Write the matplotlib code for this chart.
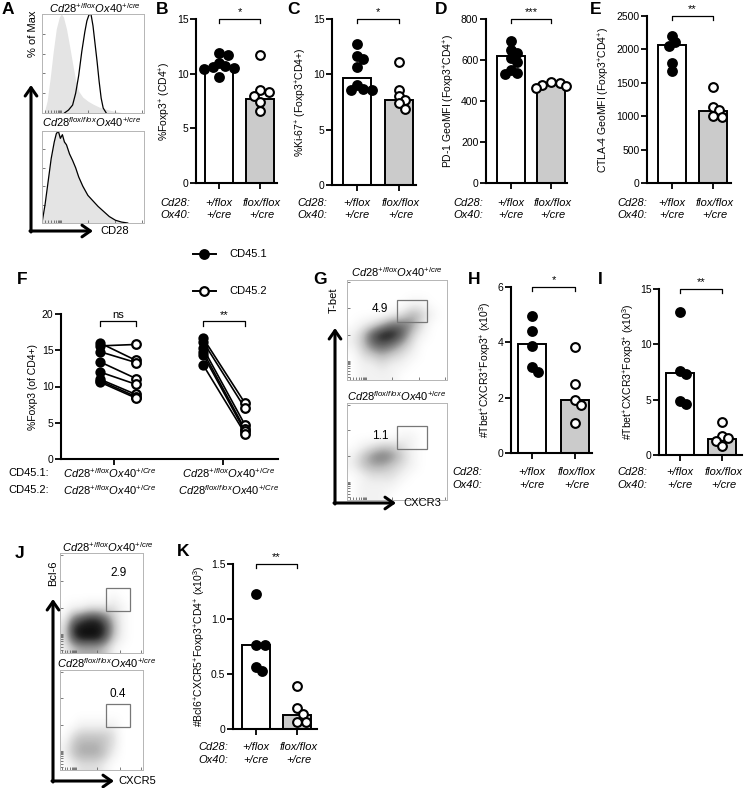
import matplotlib
matplotlib.use('Agg')
import matplotlib.pyplot as plt
import numpy as np
from matplotlib.patches import Rectangle

plt.rcParams['font.family'] = ['Liberation Sans', 'DejaVu Sans']
plt.rcParams['mathtext.fontset'] = 'custom'
plt.rcParams['mathtext.rm'] = 'Liberation Sans'
plt.rcParams['mathtext.it'] = 'Liberation Sans:italic'
plt.rcParams['mathtext.bf'] = 'Liberation Sans:bold'
plt.rcParams['mathtext.sf'] = 'Liberation Sans'

# ---------------- data ----------------
geno_cd28 = ['+/flox', 'flox/flox']
geno_ox40 = ['+/cre', '+/cre']

B_bars = [10.6, 7.7]
B_ctrl = [11.9, 11.7, 11.0, 10.7, 10.6, 10.5, 10.4, 9.7]
B_ko = [11.7, 8.5, 8.3, 8.0, 7.4, 6.6]

C_bars = [9.7, 7.7]
C_ctrl = [12.7, 11.7, 11.4, 10.7, 9.0, 8.7, 8.6, 8.6]
C_ko = [11.1, 8.6, 8.0, 7.7, 7.4, 6.9]

D_bars = [620, 478]
D_ctrl = [695, 650, 635, 610, 592, 550, 535, 530]
D_ko = [492, 488, 480, 472, 465]

E_bars = [2070, 1080]
E_ctrl = [2200, 2110, 2050, 1790, 1680]
E_ko = [1440, 1140, 1100, 1010, 990]

H_bars = [3.95, 1.9]
H_ctrl = [4.96, 4.41, 3.87, 3.12, 2.94]
H_ko = [3.82, 2.49, 1.9, 1.73, 1.07]

I_bars = [7.38, 1.45]
I_ctrl = [12.95, 7.6, 7.3, 4.9, 4.6]
I_ko = [2.95, 1.75, 1.5, 1.3, 0.85]

K_bars = [0.76, 0.13]
K_ctrl = [1.23, 0.76, 0.76, 0.56, 0.53]
K_ko = [0.39, 0.19, 0.14, 0.06, 0.06]

# F: paired CD45.1 (filled) -> CD45.2 (open)
F_left_451 = [16.0, 15.6, 14.8, 13.4, 12.0, 11.0, 10.8, 10.6]
F_left_452 = [13.6, 15.8, 13.3, 11.1, 10.3, 8.9, 8.6, 8.4]
F_right_451 = [16.7, 16.2, 15.3, 14.8, 14.4, 13.0]
F_right_452 = [7.7, 7.0, 4.7, 4.1, 3.8, 3.5]

# A: histograms (x = fraction of CD28 axis, y = % of max)
A_top_ctrl_x = [0.02, 0.05, 0.08, 0.11, 0.14, 0.17, 0.19, 0.21, 0.24, 0.27, 0.30, 0.33, 0.36, 0.40, 0.45, 0.50, 0.56, 0.62, 0.70, 0.80]
A_top_ctrl_y = [0, 12, 35, 62, 85, 97, 100, 97, 85, 68, 50, 33, 22, 16, 12, 9, 6, 4, 2, 0]
A_top_cd28_x = [0.22, 0.26, 0.30, 0.33, 0.36, 0.39, 0.42, 0.44, 0.46, 0.48, 0.50, 0.52, 0.54, 0.56, 0.58, 0.60, 0.63]
A_top_cd28_y = [0, 3, 8, 20, 38, 62, 82, 93, 99, 100, 88, 70, 52, 32, 15, 5, 0]
A_bot_x = [0.0, 0.03, 0.06, 0.09, 0.12, 0.14, 0.16, 0.18, 0.20, 0.22, 0.24, 0.27, 0.30, 0.33, 0.36, 0.40, 0.45, 0.50, 0.55, 0.60, 0.66, 0.72, 0.78, 0.84]
A_bot_cd28_y = [0, 20, 45, 70, 88, 97, 100, 92, 96, 88, 85, 75, 68, 60, 50, 40, 30, 24, 18, 13, 7, 3, 1, 0]
A_bot_ctrl_y = [0, 22, 48, 72, 90, 98, 99, 95, 94, 90, 85, 76, 68, 60, 51, 41, 31, 24, 18, 13, 7, 3, 1, 0]

# G / J: dot-plot densities (rows top->bottom, cols left->right)
G_top = [[0, 0, 0, 0, 0, 0, 0, 0, 0, 0],
         [0, 0, 0, 0, 0, 0, 0, 0, 0, 0],
         [0, 0, 0, 0, 0, 0, 1, 1, 0, 0],
         [0, 0, 0, 0, 1, 2, 4, 3, 1, 0],
         [0, 1, 2, 4, 6, 6, 5, 2, 0, 0],
         [1, 3, 7, 9, 9, 7, 3, 1, 0, 0],
         [1, 3, 6, 7, 6, 4, 2, 0, 0, 0],
         [0, 2, 3, 4, 3, 2, 1, 0, 0, 0],
         [0, 1, 1, 2, 1, 1, 0, 0, 0, 0],
         [0, 1, 1, 1, 1, 0, 0, 0, 0, 0]]
G_bot = [[0, 0, 0, 0, 0, 0, 0, 0, 0, 0],
         [0, 0, 0, 0, 0, 0, 0, 0, 0, 0],
         [0, 0, 0, 0, 0, 0, 0, 0, 0, 0],
         [0, 0, 0, 0, 0, 1, 1, 0, 0, 0],
         [0, 1, 2, 3, 3, 2, 1, 0, 0, 0],
         [1, 3, 5, 6, 5, 3, 1, 0, 0, 0],
         [1, 3, 4, 4, 3, 2, 1, 0, 0, 0],
         [0, 1, 2, 2, 2, 1, 0, 0, 0, 0],
         [0, 1, 1, 1, 1, 0, 0, 0, 0, 0],
         [0, 1, 1, 1, 0, 0, 0, 0, 0, 0]]
J_top = [[0, 0, 0, 0, 0, 0, 0, 0, 0, 0],
         [0, 0, 0, 0, 0, 0, 0, 0, 0, 0],
         [0, 0, 0, 0, 0, 0, 0, 0, 0, 0],
         [0, 0, 0, 0, 0, 0, 0, 0, 0, 0],
         [0, 0, 0, 0, 0, 0, 1, 0, 0, 0],
         [0, 1, 1, 2, 2, 2, 2, 1, 0, 0],
         [1, 5, 7, 8, 8, 6, 3, 1, 0, 0],
         [2, 8, 9, 9, 9, 8, 4, 1, 0, 0],
         [2, 7, 9, 9, 9, 7, 3, 1, 0, 0],
         [1, 3, 4, 4, 4, 3, 1, 0, 0, 0]]
J_bot = [[0, 0, 0, 0, 0, 0, 0, 0, 0, 0],
         [0, 0, 0, 0, 0, 0, 0, 0, 0, 0],
         [0, 0, 0, 0, 0, 0, 0, 0, 0, 0],
         [0, 0, 0, 0, 0, 0, 0, 0, 0, 0],
         [0, 0, 0, 0, 0, 0, 0, 0, 0, 0],
         [0, 0, 1, 1, 1, 1, 1, 0, 0, 0],
         [0, 2, 3, 3, 3, 3, 2, 0, 0, 0],
         [1, 3, 4, 4, 4, 3, 2, 0, 0, 0],
         [1, 3, 4, 4, 4, 3, 1, 0, 0, 0],
         [0, 1, 2, 2, 2, 1, 0, 0, 0, 0]]
G_gates = ['4.9', '1.1']
J_gates = ['2.9', '0.4']

# ---------------- layout helpers ----------------
W, H = 750, 788
fig = plt.figure(figsize=(W / 100, H / 100), dpi=100)

ov = fig.add_axes([0, 0, 1, 1])
ov.set_zorder(10)
ov.patch.set_visible(False)
ov.axis('off')
ov.set_xlim(0, W)
ov.set_ylim(H, 0)


def add_ax(x0, y0, x1, y1):
    return fig.add_axes([x0 / W, 1 - y1 / H, (x1 - x0) / W, (y1 - y0) / H])


def geno(sup1, sup2):
    return r'$\mathit{Cd28}^{\mathit{' + sup1 + r'}}\mathit{Ox40}^{\mathit{' + sup2 + r'}}$'


def letter(x, y, s):
    ov.text(x, y, s, fontsize=12.5, fontweight='bold', ha='left', va='center')


def swarm(vals, xpu, ypu, d=9.0):
    vals = np.asarray(vals, float)
    order = np.argsort(-vals, kind='stable')
    placed = []
    offs = np.zeros(len(vals))
    cands = [0.0]
    for k in range(1, 6):
        cands += [k * 0.33 * d, -k * 0.33 * d]
    for i in order:
        y = vals[i] * ypu
        chosen = cands[-1]
        for c in cands:
            if all((c - px) ** 2 + (y - py) ** 2 >= (0.72 * d) ** 2 for px, py in placed):
                chosen = c
                break
        placed.append((chosen, y))
        offs[i] = chosen / xpu
    return offs


def style_axes(ax):
    for s in ['top', 'right']:
        ax.spines[s].set_visible(False)
    for s in ['left', 'bottom']:
        ax.spines[s].set_linewidth(1.5)
    ax.tick_params(direction='out', length=4, width=1.3, labelsize=7.5, pad=1.5)


def bar_panel(let, lxy, spine, c1, c2, end, ytop, ybot, ymax, yticks, yticklabels,
              bars, ctrl, ko, ylabel, sig, lab_x, lab_y):
    ax = add_ax(spine, ytop, end, ybot)
    unit = float(c2 - c1)
    ax.set_xlim(-(c1 - spine) / unit, 1 + (end - c2) / unit)
    ax.set_ylim(0, ymax)
    ax.bar([0, 1], bars, width=28 / unit, color=['white', '#cbcbcb'],
           edgecolor='black', linewidth=1.4, zorder=2)
    ypu = (ybot - ytop) / ymax
    for i, (vals, face) in enumerate([(ctrl, 'black'), (ko, 'white')]):
        offs = swarm(vals, unit, ypu)
        ax.plot(i + offs, vals, 'o', ms=6.3, mfc=face, mec='black', mew=1.5,
                ls='none', zorder=3, clip_on=False)
    ax.set_xticks([0, 1])
    ax.set_xticklabels([])
    ax.set_yticks(yticks)
    ax.set_yticklabels(yticklabels)
    style_axes(ax)
    ax.set_ylabel(ylabel, fontsize=7.5, labelpad=3)
    hb = 4 / ypu
    yb = ymax
    ax.plot([0, 0, 1, 1], [yb - hb, yb, yb, yb - hb], color='black', lw=0.9, clip_on=False)
    ax.text(0.5, yb + 2 / ypu, sig, ha='center', va='bottom', fontsize=8)
    letter(lxy[0], lxy[1], let)
    kw = dict(style='italic', fontsize=8, va='center')
    ov.text(lab_x, lab_y[0], 'Cd28:', ha='left', **kw)
    ov.text(lab_x, lab_y[1], 'Ox40:', ha='left', **kw)
    for cx, g1, g2 in zip([c1, c2], geno_cd28, geno_ox40):
        ov.text(cx + (2 if g1 == 'flox/flox' else 0), lab_y[0], g1, ha='center', **kw)
        ov.text(cx + (2 if g1 == 'flox/flox' else 0), lab_y[1], g2, ha='center', **kw)
    return ax


def flow_frame(ax, xt, yt):
    ax.set_xlim(0, 1)
    ax.set_ylim(0, 1)
    for s in ax.spines.values():
        s.set_color('#b5b5b5')
        s.set_linewidth(0.7)
    ax.set_xticks(xt)
    ax.set_yticks(yt)
    ax.tick_params(length=2.5, width=0.6, color='#666666', direction='in',
                   labelleft=False, labelbottom=False)


log_ticks = [0.03, 0.06, 0.09, 0.12, 0.14, 0.16, 0.17, 0.18, 0.19, 0.45, 0.72, 0.98]


def arrows(x0, y_bottom, y_top, x_right):
    kw = dict(arrowstyle='->,head_length=0.6,head_width=0.42', lw=2.2, color='black',
              shrinkA=0, shrinkB=0)
    ov.annotate('', xy=(x0, y_top), xytext=(x0, y_bottom + 1), arrowprops=kw)
    ov.annotate('', xy=(x_right, y_bottom), xytext=(x0 - 1, y_bottom), arrowprops=kw)


# ---------------- Panel A ----------------
letter(2, 9, 'A')
axA1 = add_ax(42, 14, 144, 113)
axA1.fill_between(A_top_ctrl_x, A_top_ctrl_y, color='#e4e4e4', lw=0)
axA1.plot(A_top_cd28_x, A_top_cd28_y, color='black', lw=0.9)
axA1.set_ylim(0, 106)
flow_frame(axA1, log_ticks, [0.0, 20, 40, 60, 80, 100])
axA2 = add_ax(42, 131, 144, 223)
axA2.fill_between(A_bot_x, A_bot_ctrl_y, color='#e4e4e4', lw=0)
axA2.plot(A_bot_x, A_bot_cd28_y, color='black', lw=0.9)
axA2.set_ylim(0, 106)
flow_frame(axA2, log_ticks, [0.0, 20, 40, 60, 80, 100])
ov.text(95, 8, geno('+/flox', '+/cre'), fontsize=8, ha='center', va='center')
ov.text(92, 122, geno('flox/flox', '+/cre'), fontsize=8, ha='center', va='center')
arrows(31, 231, 85, 93)
ov.text(33, 34, '% of Max', rotation=90, fontsize=8, ha='center', va='center')
ov.text(100, 231, 'CD28', fontsize=8, ha='left', va='center')

# ---------------- Panels B-E ----------------
top_lab = (203, 215)
bar_panel('B', (156, 9), 196, 219, 260, 277, 19, 183, 15, [0, 5, 10, 15], ['0', '5', '10', '15'],
          B_bars, B_ctrl, B_ko, r'%Foxp3$^{+}$ (CD4$^{+}$)', '*', 160, top_lab)
bar_panel('C', (287, 9), 332, 357, 399, 416, 19, 185, 15, [0, 5, 10, 15], ['0', '5', '10', '15'],
          C_bars, C_ctrl, C_ko, r'%Ki-67$^{+}$ (Foxp3$^{+}$CD4+)', '*', 297, top_lab)
bar_panel('D', (435, 9), 486, 511, 551, 567, 19, 183, 800, [0, 200, 400, 600, 800],
          ['0', '200', '400', '600', '800'],
          D_bars, D_ctrl, D_ko, r'PD-1 GeoMFI (Foxp3$^{+}$CD4$^{+}$)', '***', 453, top_lab)
bar_panel('E', (590, 9), 647, 672, 713, 731, 16, 183, 2500, [0, 500, 1000, 1500, 2000, 2500],
          ['0', '500', '1000', '1500', '2000', '2500'],
          E_bars, E_ctrl, E_ko, r'CTLA-4 GeoMFI (Foxp3$^{+}$CD4$^{+}$)', '**', 617, top_lab)

# ---------------- Panel F ----------------
letter(17, 279, 'F')
axF = add_ax(61, 314, 278, 459)
uF = 109.0
axF.set_xlim(-(114 - 61) / uF, 1 + (278 - 223) / uF)
axF.set_ylim(0, 20)
off_fill = [-14 / uF, -20 / uF]
off_open = [22 / uF, 22 / uF]
for g, (a, b) in enumerate([(F_left_451, F_left_452), (F_right_451, F_right_452)]):
    xa = g + off_fill[g]
    xb = g + off_open[g]
    for va, vb in zip(a, b):
        axF.plot([xa, xb], [va, vb], color='black', lw=1.2, zorder=2)
    axF.plot([xa] * len(a), a, 'o', ms=6.2, mfc='black', mec='black', mew=1.2, ls='none', zorder=3)
    axF.plot([xb] * len(b), b, 'o', ms=6.2, mfc='white', mec='black', mew=1.6, ls='none', zorder=3)
    axF.plot([xa, xa, xb, xb], [18.4, 19.0, 19.0, 18.4], color='black', lw=0.9, clip_on=False)
    axF.text((xa + xb) / 2, 19.2, ['ns', '**'][g], ha='center', va='bottom', fontsize=8)
axF.set_xticks([0, 1])
axF.set_xticklabels([])
axF.set_yticks([0, 5, 10, 15, 20])
style_axes(axF)
axF.set_ylabel('%Foxp3 (of CD4+)', fontsize=7.5, labelpad=3)
# legend
for yy, face, lab in [(254, 'black', 'CD45.1'), (291, 'white', 'CD45.2')]:
    ov.plot([193, 216], [yy, yy], color='black', lw=1.4)
    ov.plot([204], [yy], 'o', ms=6.2, mfc=face, mec='black', mew=1.6)
    ov.text(229, yy, lab, fontsize=8, ha='left', va='center')
ov.text(8, 473, 'CD45.1:', fontsize=8, ha='left', va='center')
ov.text(8, 490, 'CD45.2:', fontsize=8, ha='left', va='center')
ov.text(110, 473, geno('+/flox', '+/Cre'), fontsize=8, ha='center', va='center')
ov.text(110, 490, geno('+/flox', '+/Cre'), fontsize=8, ha='center', va='center')
ov.text(229, 473, geno('+/flox', '+/Cre'), fontsize=8, ha='center', va='center')
ov.text(229, 490, geno('flox/flox', '+/Cre'), fontsize=8, ha='center', va='center')


# ---------------- Panels G & J (dot plots) ----------------
def dot_panel(rect, grid, gate, gtxt, txy):
    ax = add_ax(*rect)
    ax.imshow(np.array(grid, float), extent=[0, 1, 0, 1], cmap='Greys', vmin=0, vmax=9.5,
              interpolation='bicubic', aspect='auto', origin='upper')
    flow_frame(ax, log_ticks, log_ticks)
    ax.add_patch(Rectangle((gate[0], gate[1]), gate[2] - gate[0], gate[3] - gate[1],
                           fill=False, ec='#777777', lw=0.9))
    ax.text(txy[0], txy[1], gtxt, fontsize=8.5, ha='center', va='center', transform=ax.transAxes)
    return ax


letter(313, 279, 'G')
dot_panel((347, 280, 447, 380), G_top, (0.5, 0.58, 0.8, 0.8), G_gates[0], (0.33, 0.71))
dot_panel((347, 403, 447, 500), G_bot, (0.5, 0.53, 0.8, 0.76), G_gates[1], (0.33, 0.66))
ov.text(397, 272, geno('+/flox', '+/cre'), fontsize=8, ha='center', va='center')
ov.text(397, 396, geno('flox/flox', '+/cre'), fontsize=8, ha='center', va='center')
arrows(335, 503, 328, 396)
ov.text(334, 300, 'T-bet', rotation=90, fontsize=8, ha='center', va='center')
ov.text(403, 503, 'CXCR3', fontsize=8, ha='left', va='center')

letter(15, 553, 'J')
dot_panel((60, 553, 143, 653), J_top, (0.55, 0.42, 0.84, 0.65), J_gates[0], (0.70, 0.80))
dot_panel((60, 670, 143, 770), J_bot, (0.55, 0.43, 0.84, 0.66), J_gates[1], (0.70, 0.76))
ov.text(108, 547, geno('+/flox', '+/cre'), fontsize=8, ha='center', va='center')
ov.text(107, 663, geno('flox/flox', '+/cre'), fontsize=8, ha='center', va='center')
arrows(53, 781, 599, 114)
ov.text(53, 573, 'Bcl-6', rotation=90, fontsize=8, ha='center', va='center')
ov.text(118, 781, 'CXCR5', fontsize=8, ha='left', va='center')

# ---------------- Panels H, I, K ----------------
mid_lab = (472, 485)
bar_panel('H', (468, 279), 511, 532, 575, 592, 287, 453, 6, [0, 2, 4, 6], ['0', '2', '4', '6'],
          H_bars, H_ctrl, H_ko, r'#Tbet$^{+}$CXCR3$^{+}$Foxp3$^{+}$ (x10$^{3}$)', '*', 452, mid_lab)
bar_panel('I', (598, 279), 659, 680, 722, 742, 289, 455, 15, [0, 5, 10, 15], ['0', '5', '10', '15'],
          I_bars, I_ctrl, I_ko, r'#Tbet$^{+}$CXCR3$^{+}$Foxp3$^{+}$ (x10$^{3}$)', '**', 617, mid_lab)
bar_panel('K', (177, 551), 233, 256, 297, 317, 564, 729, 1.5, [0, 0.5, 1.0, 1.5],
          ['0', '0.5', '1.0', '1.5'],
          K_bars, K_ctrl, K_ko, r'#Bcl6$^{+}$CXCR5$^{+}$Foxp3$^{+}$CD4$^{+}$ (x10$^{3}$)', '**', 198,
          (747, 760))

fig.savefig('out.png', dpi=100)
